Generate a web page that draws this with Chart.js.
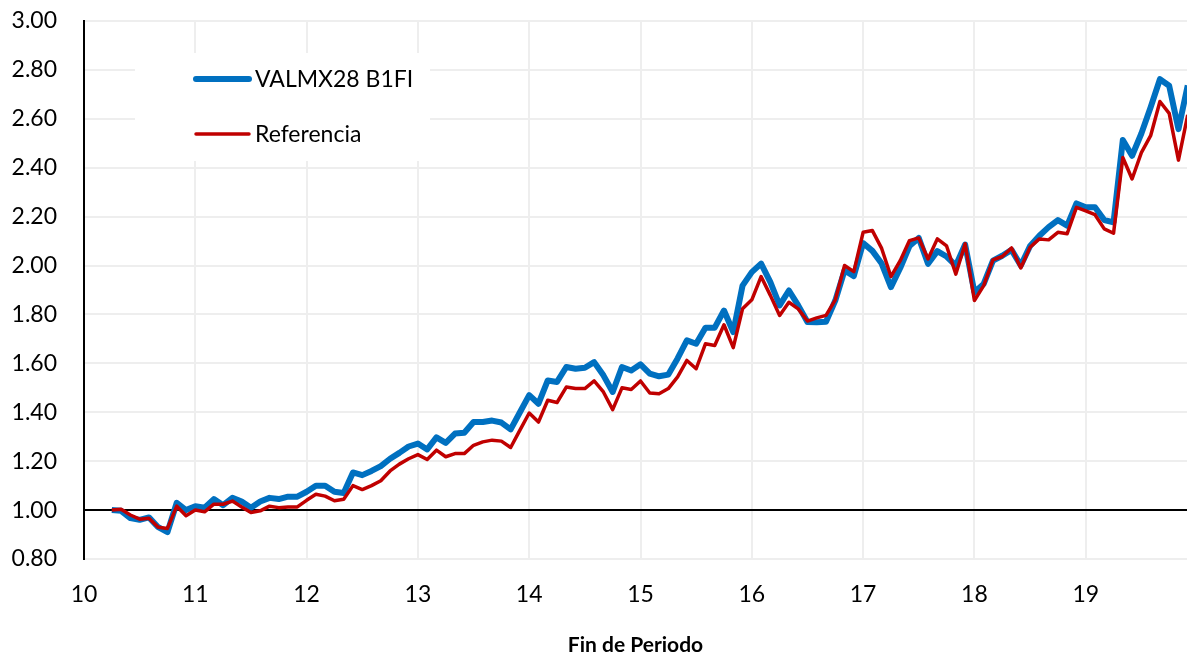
<!DOCTYPE html>
<html>
<head>
<meta charset="utf-8">
<style>
html,body{margin:0;padding:0;background:#ffffff;}
#wrap{width:1187px;height:658px;position:relative;}
</style>
<script src="https://cdn.jsdelivr.net/npm/chart.js@4/dist/chart.umd.min.js"></script>
</head>
<body>
<div id="wrap"><canvas id="c" width="1187" height="658"></canvas></div>
<script>
// Period labels (year-month, end of period)
const periods = [
  '2010-03','2010-04','2010-05','2010-06','2010-07','2010-08','2010-09','2010-10','2010-11','2010-12',
  '2011-01','2011-02','2011-03','2011-04','2011-05','2011-06','2011-07','2011-08','2011-09','2011-10','2011-11','2011-12',
  '2012-01','2012-02','2012-03','2012-04','2012-05','2012-06','2012-07','2012-08','2012-09','2012-10','2012-11','2012-12',
  '2013-01','2013-02','2013-03','2013-04','2013-05','2013-06','2013-07','2013-08','2013-09','2013-10','2013-11','2013-12',
  '2014-01','2014-02','2014-03','2014-04','2014-05','2014-06','2014-07','2014-08','2014-09','2014-10','2014-11','2014-12',
  '2015-01','2015-02','2015-03','2015-04','2015-05','2015-06','2015-07','2015-08','2015-09','2015-10','2015-11','2015-12',
  '2016-01','2016-02','2016-03','2016-04','2016-05','2016-06','2016-07','2016-08','2016-09','2016-10','2016-11','2016-12',
  '2017-01','2017-02','2017-03','2017-04','2017-05','2017-06','2017-07','2017-08','2017-09','2017-10','2017-11','2017-12',
  '2018-01','2018-02','2018-03','2018-04','2018-05','2018-06','2018-07','2018-08','2018-09','2018-10','2018-11','2018-12',
  '2019-01','2019-02','2019-03','2019-04','2019-05','2019-06','2019-07','2019-08','2019-09','2019-10','2019-11'
];

const valmx28 = [
  1.000,0.997,0.967,0.960,0.970,0.930,0.910,1.030,1.000,1.016,
  1.010,1.045,1.020,1.050,1.035,1.010,1.035,1.050,1.045,1.055,1.055,1.075,
  1.100,1.100,1.075,1.070,1.154,1.143,1.160,1.180,1.210,1.234,1.260,1.272,
  1.248,1.297,1.275,1.313,1.316,1.360,1.360,1.366,1.358,1.330,1.400,1.470,
  1.435,1.530,1.524,1.585,1.578,1.582,1.605,1.551,1.483,1.585,1.571,1.596,
  1.558,1.547,1.554,1.620,1.694,1.680,1.746,1.746,1.816,1.728,1.918,1.973,
  2.008,1.932,1.837,1.898,1.837,1.769,1.768,1.770,1.857,1.980,1.957,2.092,
  2.060,2.008,1.912,1.990,2.080,2.113,2.007,2.059,2.037,2.000,2.086,1.891,
  1.925,2.020,2.040,2.064,2.000,2.080,2.122,2.157,2.186,2.163,2.254,2.238,
  2.238,2.186,2.177,2.513,2.449,2.540,2.647,2.762,2.735,2.558,2.737
];

const referencia = [
  1.000,1.003,0.980,0.963,0.967,0.930,0.925,1.016,0.977,1.000,
  0.993,1.024,1.024,1.037,1.013,0.990,0.997,1.016,1.010,1.013,1.013,1.040,
  1.065,1.057,1.038,1.044,1.100,1.084,1.100,1.120,1.160,1.188,1.210,1.227,
  1.207,1.245,1.218,1.231,1.231,1.265,1.279,1.286,1.282,1.256,1.327,1.397,
  1.360,1.449,1.440,1.503,1.497,1.497,1.528,1.483,1.411,1.500,1.493,1.528,
  1.479,1.476,1.497,1.545,1.612,1.578,1.680,1.673,1.758,1.664,1.823,1.860,
  1.955,1.878,1.796,1.850,1.823,1.773,1.786,1.796,1.860,2.000,1.975,2.136,
  2.143,2.070,1.955,2.020,2.102,2.113,2.027,2.109,2.080,1.965,2.089,1.857,
  1.918,2.023,2.037,2.072,1.990,2.075,2.109,2.105,2.136,2.130,2.238,2.224,
  2.208,2.150,2.132,2.442,2.354,2.462,2.531,2.671,2.622,2.431,2.616
];

const seriesNames = ['VALMX28 B1FI', 'Referencia'];
const xTickLabels = ['10','11','12','13','14','15','16','17','18','19'];
const xAxisTitle = 'Fin de Periodo';

// convert "YYYY-MM" to the decimal year used on the horizontal axis (yy + month/12)
function periodToX(p) {
  const [yy, mm] = p.split('-').map(Number);
  return (yy - 2000) + mm / 12;
}
function toPoints(values) {
  return values.map((v, i) => ({ x: periodToX(periods[i]), y: v }));
}

const FONT = 'Lato';

const insideLegend = {
  id: 'insideLegend',
  beforeDatasetsDraw(chart, args, opts) {
    const ctx = chart.ctx;
    ctx.save();
    ctx.fillStyle = '#ffffff';
    ctx.fillRect(opts.boxX, opts.boxY, opts.boxW, opts.boxH);
    ctx.restore();
  },
  afterDatasetsDraw(chart, args, opts) {
    const ctx = chart.ctx;
    ctx.save();
    chart.data.datasets.forEach((ds, i) => {
      const y = opts.firstY + i * opts.rowGap;
      ctx.strokeStyle = ds.borderColor;
      ctx.lineWidth = ds.borderWidth;
      ctx.lineCap = 'round';
      ctx.beginPath();
      ctx.moveTo(opts.lineX0, y);
      ctx.lineTo(opts.lineX1, y);
      ctx.stroke();
      ctx.fillStyle = '#000000';
      ctx.font = opts.fontSize + 'px ' + FONT;
      ctx.textBaseline = 'middle';
      ctx.textAlign = 'left';
      ctx.fillText(ds.label, opts.textX, y + 1);
    });
    ctx.restore();
  }
};

new Chart(document.getElementById('c'), {
  type: 'line',
  data: {
    datasets: [
      {
        label: seriesNames[0],
        data: toPoints(valmx28),
        borderColor: '#0070C0',
        backgroundColor: '#0070C0',
        borderWidth: 6,
        pointRadius: 0,
        tension: 0,
        order: 1,
        borderJoinStyle: 'round'
      },
      {
        label: seriesNames[1],
        data: toPoints(referencia),
        borderColor: '#C00000',
        backgroundColor: '#C00000',
        borderWidth: 3.5,
        pointRadius: 0,
        tension: 0,
        order: 0,
        borderJoinStyle: 'round'
      }
    ]
  },
  options: {
    responsive: false,
    animation: false,
    devicePixelRatio: 1,
    layout: { autoPadding: false, padding: { top: 21, right: 0, bottom: 0, left: 0 } },
    plugins: {
      legend: { display: false },
      tooltip: { enabled: false },
      insideLegend: {
        boxX: 135, boxY: 53, boxW: 295, boxH: 108,
        lineX0: 196, lineX1: 249, textX: 255,
        firstY: 79, rowGap: 55, fontSize: 23
      }
    },
    scales: {
      x: {
        type: 'linear',
        min: 10,
        max: 19.91,
        ticks: {
          stepSize: 1,
          includeBounds: false,
          autoSkip: false,
          maxRotation: 0,
          padding: 22,
          color: '#000000',
          font: { family: FONT, size: 23 },
          callback: (v) => {
            const idx = xTickLabels.indexOf(String(v));
            return idx >= 0 ? xTickLabels[idx] : '';
          }
        },
        grid: { color: '#EEEEEE', lineWidth: 2, drawTicks: false },
        border: { display: false },
        title: {
          display: true,
          text: xAxisTitle,
          color: '#000000',
          font: { family: FONT, size: 21, weight: 'bold' },
          padding: { top: 0, bottom: 0 }
        },
        afterFit: (s) => { s.height = 99; s.paddingLeft = 0; s.paddingRight = 0; }
      },
      y: {
        min: 0.8,
        max: 3.0,
        ticks: {
          stepSize: 0.2,
          padding: 27,
          color: '#000000',
          font: { family: FONT, size: 23 },
          callback: (v) => Number(v).toFixed(2)
        },
        grid: {
          color: (ctx) => (ctx.tick && Math.abs(ctx.tick.value - 1) < 1e-6) ? '#000000' : '#EEEEEE',
          lineWidth: 2,
          drawTicks: false
        },
        border: { display: true, color: '#000000', width: 2 },
        afterFit: (s) => { s.width = 84; s.paddingTop = 0; s.paddingBottom = 0; }
      }
    }
  },
  plugins: [insideLegend]
});
</script>
</body>
</html>
